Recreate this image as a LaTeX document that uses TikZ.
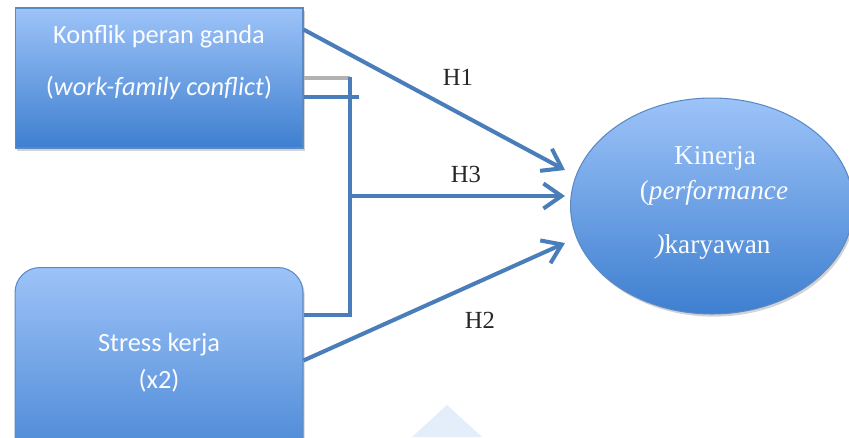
\documentclass[tikz,border=0pt]{standalone}
\usepackage{fontspec}
\setmainfont{Liberation Serif}
\newfontfamily\boxfont{Carlito}
\usepackage{xcolor}
\usetikzlibrary{shapes.geometric,arrows.meta,shadows,calc}

\definecolor{boxtop}{HTML}{9DC3F8}
\definecolor{boxbot}{HTML}{3E7FD0}
\definecolor{boxedge}{HTML}{5A8AC6}
\definecolor{linkcol}{HTML}{4A7EBB}
\definecolor{fadetri}{HTML}{E3EEFA}

\tikzset{
	varbox/.style={draw=boxedge, line width=0.6pt, top color=boxtop, bottom color=boxbot,
		drop shadow={shadow xshift=1pt, shadow yshift=-1.5pt, opacity=0.35}},
	boxtext/.style={text=white!95!boxtop, font=\boxfont\fontsize{15}{17}\selectfont},
	ovaltext/.style={text=white!95!boxtop, font=\fontsize{15.5}{18}\selectfont},
	hlabel/.style={text=black!85, font=\fontsize{14}{16}\selectfont},
	link/.style={draw=linkcol, line width=2.3pt},
	greylink/.style={draw=black!30, line width=2.3pt},
	arrowlink/.style={link, -{Straight Barb[length=0.36cm, width=0.5cm]}}
}

\begin{document}
\begin{tikzpicture}[x=0.02cm,y=-0.02cm]
	\useasboundingbox (0,0) rectangle (849,437);
	\clip (0,0) rectangle (849,437);
	% faint mark at the bottom
	\fill[fadetri] (412,437) -- (447,405) -- (482,437) -- cycle;
	% Draw boxes
	\node[varbox, minimum width=5.76cm, minimum height=2.8cm] (konflik) at (159,78) {};
	\node[boxtext] (konflikA) at (159,37) {Konflik peran ganda};
	\node[boxtext] (konflikB) at (159,88) {(\textit{work-family conflict})};
	\node[varbox, rounded corners=0.5cm, minimum width=5.76cm, minimum height=4.4cm, anchor=north] (stress) at (159,267) {};
	\node[boxtext] (stressA) at (159,345) {Stress kerja};
	\node[boxtext] (stressB) at (159,381) {(x2)};
	\node[varbox, ellipse, minimum width=5.66cm, minimum height=4.32cm] (kinerja) at (712,206) {};
	\node[ovaltext] (kinerjaA) at (715,158) {Kinerja};
	\node[ovaltext] (kinerjaB) at (714,193) {(\textit{performance}};
	\node[ovaltext] (kinerjaC) at (713,247) {\textit{)}karyawan};
	% Junctions and arrow ends
	\coordinate (jtop) at (350,77);
	\coordinate (jmid) at (350,196);
	\coordinate (jbot) at (350,315);
	\coordinate (tipA) at (565,170);
	\coordinate (tipB) at (565,196);
	\coordinate (tipC) at (565,243);
	% Draw connectors
	\draw[greylink] (konflik.east) -- (konflik.east -| jtop);
	\draw[link] ($(konflik.east)+(0,19)$) -- ++(55,0);
	\draw[link] (jtop) -- (jbot) -- (stress.east |- jbot);
	\draw[arrowlink] ($(konflik.north east)+(0,22)$) -- (tipA);
	\draw[arrowlink] (jmid) -- (tipB);
	\draw[arrowlink] ($(stress.east)+(0,-17)$) -- (tipC);
	% Hypothesis labels
	\node[hlabel] (hA) at (458,77) {H1};
	\node[hlabel] (hC) at (466,174) {H3};
	\node[hlabel] (hB) at (480,320) {H2};
\end{tikzpicture}
\end{document}
